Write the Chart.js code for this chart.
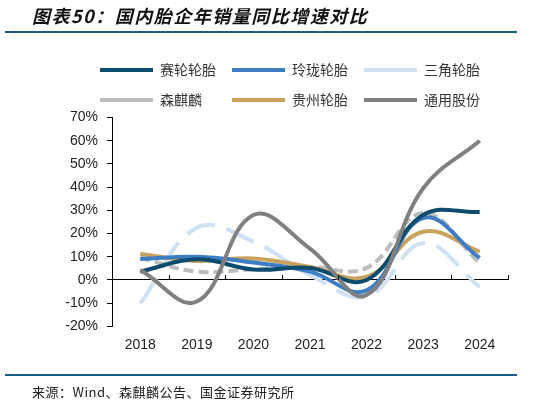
<!DOCTYPE html>
<html>
<head>
<meta charset="utf-8">
<script src="https://cdn.jsdelivr.net/npm/chart.js@4.4.1/dist/chart.umd.min.js"></script>
<style>
  html, body { margin: 0; padding: 0; background: #fff; }
  #wrap { position: relative; width: 559px; height: 405px; overflow: hidden; }
  #c { position: absolute; left: 0; top: 0; }
  .title { position: absolute; left: 32px; top: 3px; font: italic bold 18px "Noto Sans CJK SC", sans-serif; letter-spacing: 1.5px; color: #111; line-height: 24px; white-space: nowrap; }
  .rule { position: absolute; left: 5px; width: 512px; height: 2px; background: #1f5c8a; }
  .source { position: absolute; left: 32px; top: 384px; font: 13px "Noto Sans CJK SC", sans-serif; letter-spacing: 0.5px; color: #222; line-height: 16px; white-space: nowrap; }
</style>
</head>
<body>
<div id="wrap">
  <canvas id="c" width="559" height="405"></canvas>
  <div class="title">图表50：国内胎企年销量同比增速对比</div>
  <div class="rule" style="top:31px"></div>
  <div class="rule" style="top:374px"></div>
  <div class="source">来源：Wind、森麒麟公告、国金证券研究所</div>
</div>
<script>
const years = ['2018', '2019', '2020', '2021', '2022', '2023', '2024'];
const sailun = [3.6, 8.9, 4.5, 5.2, 0.0, 28.0, 29.3];
const linglong = [9.0, 10.0, 7.5, 3.6, -4.5, 26.7, 9.5];
const sanjiao = [-10.0, 22.5, 16.5, 2.2, -7.2, 15.9, -3.0];
const senqilin = [9.6, 3.6, 4.6, 5.6, 5.2, 28.9, 7.3];
const guizhou = [11.2, 8.2, 9.3, 5.6, 1.4, 20.8, 12.2];
const tongyong = [4.3, -9.3, 28.0, 13.5, -6.5, 39.5, 60.0];
const seriesNames = ['赛轮轮胎', '玲珑轮胎', '三角轮胎', '森麒麟', '贵州轮胎', '通用股份'];
const yMin = -20, yMax = 70, yStep = 10;

const xTickPlugin = {
  id: 'xTicksAtZero',
  beforeLayout(chart) {
    const lg = chart.legend;
    if (lg && !lg._patched) {
      const orig = lg.fit.bind(lg);
      lg.fit = function () { orig(); this.height = 70.5; };
      lg._patched = true;
    }
  },
  afterLayout(chart) {
    const lg = chart.legend;
    if (lg) { lg.left = 72; }
  },
  afterDatasetsDraw(chart) {
    const x = chart.scales.x, y = chart.scales.y;
    const y0 = y.getPixelForValue(0);
    const half = (x.getPixelForValue(1) - x.getPixelForValue(0)) / 2;
    const ctx = chart.ctx;
    ctx.save();
    ctx.strokeStyle = '#000';
    ctx.lineWidth = 1;
    ctx.beginPath();
    for (let i = 0; i < years.length; i++) {
      const px = Math.round(x.getPixelForValue(i) + half) + 0.5;
      ctx.moveTo(px, y0);
      ctx.lineTo(px, y0 - 5);
    }
    ctx.stroke();
    ctx.restore();
  }
};

function ds(label, data, color, width, dash, order) {
  return { label, data, borderColor: color, backgroundColor: color, borderWidth: width,
    borderDash: dash, pointRadius: 0, pointHoverRadius: 0, tension: 0.4, fill: false, order };
}

new Chart(document.getElementById('c'), {
  type: 'line',
  data: {
    labels: years,
    datasets: [
      ds(seriesNames[0], sailun, '#0d4c6e', 4, [], 1),
      ds(seriesNames[1], linglong, '#3c7dc3', 4, [], 2),
      ds(seriesNames[2], sanjiao, '#cfe1f3', 4, [30, 12], 5),
      ds(seriesNames[3], senqilin, '#bdbdbd', 4, [10, 5], 4),
      ds(seriesNames[4], guizhou, '#c9a35d', 4, [], 3),
      ds(seriesNames[5], tongyong, '#808080', 4, [], 0)
    ]
  },
  options: {
    responsive: false,
    animation: false,
    layout: { padding: { left: 50, right: 51, top: 47, bottom: 40 } },
    plugins: {
      tooltip: { enabled: false },
      legend: {
        position: 'top',
        labels: {
          usePointStyle: true,
          pointStyle: 'line',
          pointStyleWidth: 53,
          padding: 16,
          color: '#333',
          font: { family: '"Noto Sans CJK SC", sans-serif', size: 14 },
          sort: (a, b) => a.datasetIndex - b.datasetIndex,
          generateLabels(chart) {
            const items = Chart.defaults.plugins.legend.labels.generateLabels(chart);
            items.forEach(it => { while (it.text.length < 4) it.text += '\u3000'; });
            return items;
          }
        }
      }
    },
    scales: {
      x: {
        type: 'category',
        offset: true,
        grid: { display: false, drawTicks: false },
        border: { display: false },
        ticks: { color: '#222', padding: 10, font: { family: '"Liberation Sans", Arial, sans-serif', size: 14 } },
        afterFit(s) { s.height = 38.6; }
      },
      y: {
        min: yMin, max: yMax,
        ticks: { stepSize: yStep, color: '#222', padding: 9,
          font: { family: '"Liberation Sans", Arial, sans-serif', size: 14 },
          callback: v => v + '%' },
        grid: { color: c => (c.tick && c.tick.value === 0) ? '#000' : 'rgba(0,0,0,0)',
          tickColor: '#000', tickLength: 5, lineWidth: 1 },
        border: { display: true, color: '#000', width: 1 },
        afterFit(s) { s.width = 62; }
      }
    }
  },
  plugins: [xTickPlugin]
});
</script>
</body>
</html>
